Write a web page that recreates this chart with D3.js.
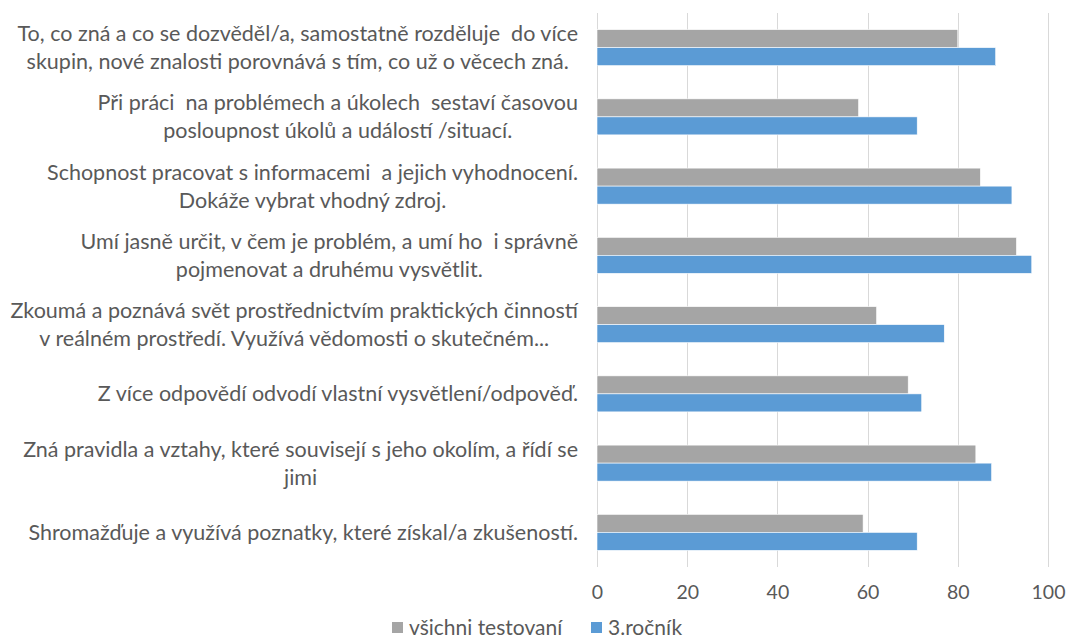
<!DOCTYPE html>
<html>
<head>
<meta charset="utf-8">
<script src="https://cdn.jsdelivr.net/npm/d3@7"></script>
<style>
  body { margin: 0; background: #fff; }
  text { font-family: Lato, "Open Sans", sans-serif; fill: #595959; white-space: pre; }
</style>
</head>
<body>
<div id="chart"></div>
<script>
// categories, top to bottom (line breaks as in the picture)
var categories = [
  "To, co zná a co se dozvěděl/a, samostatně rozděluje  do více\nskupin, nové znalosti porovnává s tím, co už o věcech zná.",
  "Při práci  na problémech a úkolech  sestaví časovou\nposloupnost úkolů a událostí /situací.",
  "Schopnost pracovat s informacemi  a jejich vyhodnocení.\nDokáže vybrat vhodný zdroj.",
  "Umí jasně určit, v čem je problém, a umí ho  i správně\npojmenovat a druhému vysvětlit.",
  "Zkoumá a poznává svět prostřednictvím praktických činností\nv reálném prostředí. Využívá vědomosti o skutečném...",
  "Z více odpovědí odvodí vlastní vysvětlení/odpověď.",
  "Zná pravidla a vztahy, které souvisejí s jeho okolím, a řídí se\njimi",
  "Shromažďuje a využívá poznatky, které získal/a zkušeností."
];
var seriesNames = ["všichni testovaní", "3.ročník"];
var vsichni = [80, 58, 85, 93, 62, 69, 84, 59];
var rocnik3 = [88.4, 71, 92, 96.4, 77, 72, 87.5, 71];
var xTicks = [0, 20, 40, 60, 80, 100];
var colors = ["#a5a5a5", "#5b9bd5"];

var W = 1068, H = 639;
var svg = d3.select("#chart").append("svg")
  .attr("width", W).attr("height", H);

var x = d3.scaleLinear().domain([0, 100]).range([597, 1048]);
var y = d3.scaleBand().domain(d3.range(categories.length))
  .range([13, 567]).paddingInner(0.48).paddingOuter(0.24);
var ySub = d3.scaleBand().domain([0, 1]).range([0, y.bandwidth()]);

// gridlines
svg.append("g").selectAll("line")
  .data(xTicks).enter().append("line")
  .attr("x1", function(d){ return Math.round(x(d)) + 0.5; })
  .attr("x2", function(d){ return Math.round(x(d)) + 0.5; })
  .attr("y1", 13).attr("y2", 567)
  .attr("stroke", "#d9d9d9").attr("stroke-width", 1);

// tick labels
var xAxis = d3.axisBottom(x).tickValues(xTicks).tickSize(0).tickPadding(0);
var gx = svg.append("g").attr("transform", "translate(0,585)").call(xAxis);
gx.select(".domain").remove();
gx.selectAll("text")
  .style("font-size", "19.5px").attr("fill", "#595959")
  .style("font-family", "Lato, sans-serif");

// bars
var rows = categories.map(function(c, i){ return [vsichni[i], rocnik3[i]]; });
var groups = svg.append("g").selectAll("g")
  .data(rows).enter().append("g")
  .attr("transform", function(d, i){ return "translate(0," + y(i) + ")"; });
groups.selectAll("rect")
  .data(function(d){ return d; }).enter().append("rect")
  .attr("x", x(0))
  .attr("y", function(d, j){ return ySub(j); })
  .attr("width", function(d){ return x(d) - x(0); })
  .attr("height", ySub.bandwidth())
  .attr("fill", function(d, j){ return colors[j]; })
  .attr("stroke", "#fff").attr("stroke-width", 0.6);

// category labels: block right-aligned, lines centered within block
var lineH = 28;
var labels = svg.append("g").selectAll("text")
  .data(categories).enter().append("text")
  .style("font-size", "21.5px")
  .attr("text-anchor", "middle");
labels.each(function(c, i){
  var t = d3.select(this);
  var lines = c.split("\n");
  var cy = y(i) + y.bandwidth() / 2;
  var y0 = cy - (lines.length - 1) * lineH / 2;
  lines.forEach(function(l, k){
    t.append("tspan").attr("y", y0 + k * lineH).attr("dy", "0.35em").text(l);
  });
  var maxW = 0;
  t.selectAll("tspan").each(function(){ maxW = Math.max(maxW, this.getComputedTextLength()); });
  t.selectAll("tspan").attr("x", 578 - maxW / 2);
});

// legend
var legend = svg.append("g").attr("transform", "translate(392,628)");
var legX = [0, 199];
seriesNames.forEach(function(s, i){
  var g = legend.append("g").attr("transform", "translate(" + legX[i] + ",0)");
  g.append("rect").attr("x", 0).attr("y", -6).attr("width", 11).attr("height", 11)
    .attr("fill", colors[i]);
  g.append("text").attr("x", 17).attr("y", 0).attr("dy", "0.35em")
    .style("font-size", "21px").text(s);
});
</script>
</body>
</html>
